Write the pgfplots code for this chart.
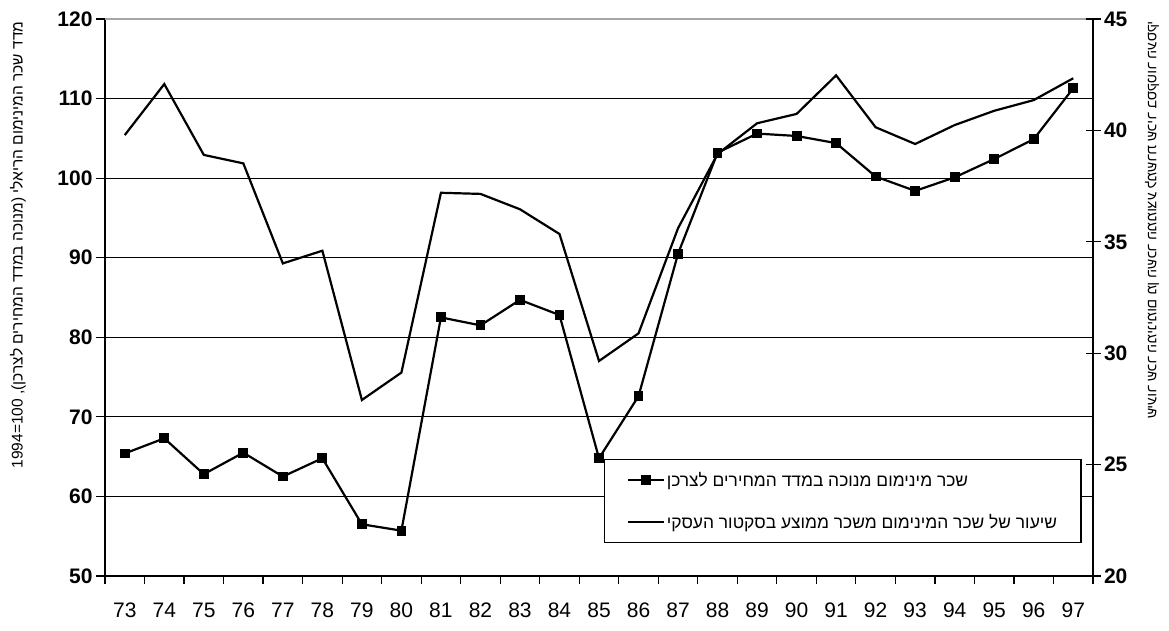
\documentclass[border=0pt]{standalone}
\usepackage{fontspec}
\setmainfont{Liberation Sans}
\newfontfamily\hebfont[Script=Hebrew]{Liberation Sans}
\usepackage{pgfplots}
\pgfplotsset{compat=1.18}
\TeXXeTstate=1
\newcommand{\heb}[1]{{\hebfont\beginR #1\endR}}

\pgfplotstableread{
x wage
0 65.4
1 67.3
2 62.8
3 65.5
4 62.5
5 64.8
6 56.5
7 55.7
8 82.5
9 81.5
10 84.7
11 82.8
12 64.8
13 72.6
14 90.5
15 103.2
16 105.6
17 105.3
18 104.4
19 100.2
20 98.4
21 100.1
22 102.4
23 104.9
24 111.3
}\wagetable

\pgfplotstableread{
x ratio
0 39.79
1 42.08
2 38.90
3 38.52
4 34.03
5 34.60
6 27.90
7 29.13
8 37.20
9 37.15
10 36.46
11 35.35
12 29.65
13 30.89
14 35.61
15 38.94
16 40.32
17 40.74
18 42.47
19 40.14
20 39.39
21 40.24
22 40.88
23 41.36
24 42.34
}\ratiotable

\begin{document}
\begin{tikzpicture}[x=1pt,y=1pt]
\path[use as bounding box] (0,0) rectangle (1169,630);
\begin{axis}[
  at={(105pt,54pt)}, anchor=south west,
  scale only axis, width=988pt, height=557pt,
  xmin=-0.5, xmax=24.5, ymin=50, ymax=120,
  ytick={50,60,...,110},
  extra y ticks={120},
  extra y tick style={grid style={gray!70, line width=1.2pt}},
  axis y line*=left, axis x line*=bottom,
  axis line style={black, line width=1.3pt, -},
  ymajorgrids, grid style={black, line width=1.2pt},
  xtick={0,...,24},
  xticklabels={73,74,75,76,77,78,79,80,81,82,83,84,85,86,87,88,89,90,91,92,93,94,95,96,97},
  minor xtick={-0.5,0.5,...,24.5},
  major x tick style={draw=none},
  minor x tick style={black, line width=1.2pt},
  ytick style={black, line width=1.2pt},
  tick align=outside,
  major tick length=9pt, minor tick length=8pt,
  /pgf/number format/assume math mode=true,
  yticklabel style={font=\fontsize{21}{21}\selectfont\bfseries},
  xticklabel style={font=\fontsize{21}{21}\selectfont, text height=15.5pt, text depth=0pt, anchor=north, yshift=-13pt},
  clip=false,
]
\addplot[black, line width=2.2pt, mark=square*, mark size=3.8pt, mark options={solid}] table[x=x,y=wage] {\wagetable};
\end{axis}
\begin{axis}[
  at={(105pt,54pt)}, anchor=south west,
  scale only axis, width=988pt, height=557pt,
  xmin=-0.5, xmax=24.5, ymin=20, ymax=45,
  ytick={20,25,...,45},
  axis y line*=right, axis x line=none,
  axis line style={black, line width=1.3pt, -},
  ytick style={black, line width=1.2pt},
  tick align=center, major tick length=15pt,
  /pgf/number format/assume math mode=true,
  yticklabel style={font=\fontsize{21}{21}\selectfont\bfseries},
  legend style={at={(0.505,0.059)}, anchor=south west, draw=black, line width=1.2pt,
    font=\fontsize{17.4}{17.4}\selectfont, row sep=22pt, inner xsep=22pt, inner ysep=11pt},
  legend cell align=left,
  legend image post style={line width=2.2pt},
  legend image code/.code={\draw[mark repeat=2, mark phase=2, #1] plot coordinates {(0pt,0pt) (18pt,0pt) (36pt,0pt)};},
  clip=false,
]
\addlegendimage{black, line width=2.2pt, mark=square*, mark size=3.8pt, mark options={solid}}
\addlegendentry{\heb{שכר מינימום מנוכה במדד המחירים לצרכן}}
\addplot[black, line width=2.2pt, mark=none] table[x=x,y=ratio] {\ratiotable};
\addlegendentry{\heb{שיעור של שכר המינימום משכר ממוצע בסקטור העסקי}}
\end{axis}
\node[rotate=90, font=\fontsize{15.5}{15.5}\selectfont] at (18,385)
  {\hebfont\beginR מדד שכר המינימום הריאלי (מנוכה במדד המחירים לצרכן), {\rmfamily\beginL 1994=100\endL}\endR};
\node[rotate=90, xscale=-1, font=\fontsize{14}{14}\selectfont] at (1152,410)
  {\hebfont\beginR שיעור שכר המינימום מן השכר הממוצע למשרת שכיר בסקטור העסקי\endR};
\end{tikzpicture}
\end{document}
